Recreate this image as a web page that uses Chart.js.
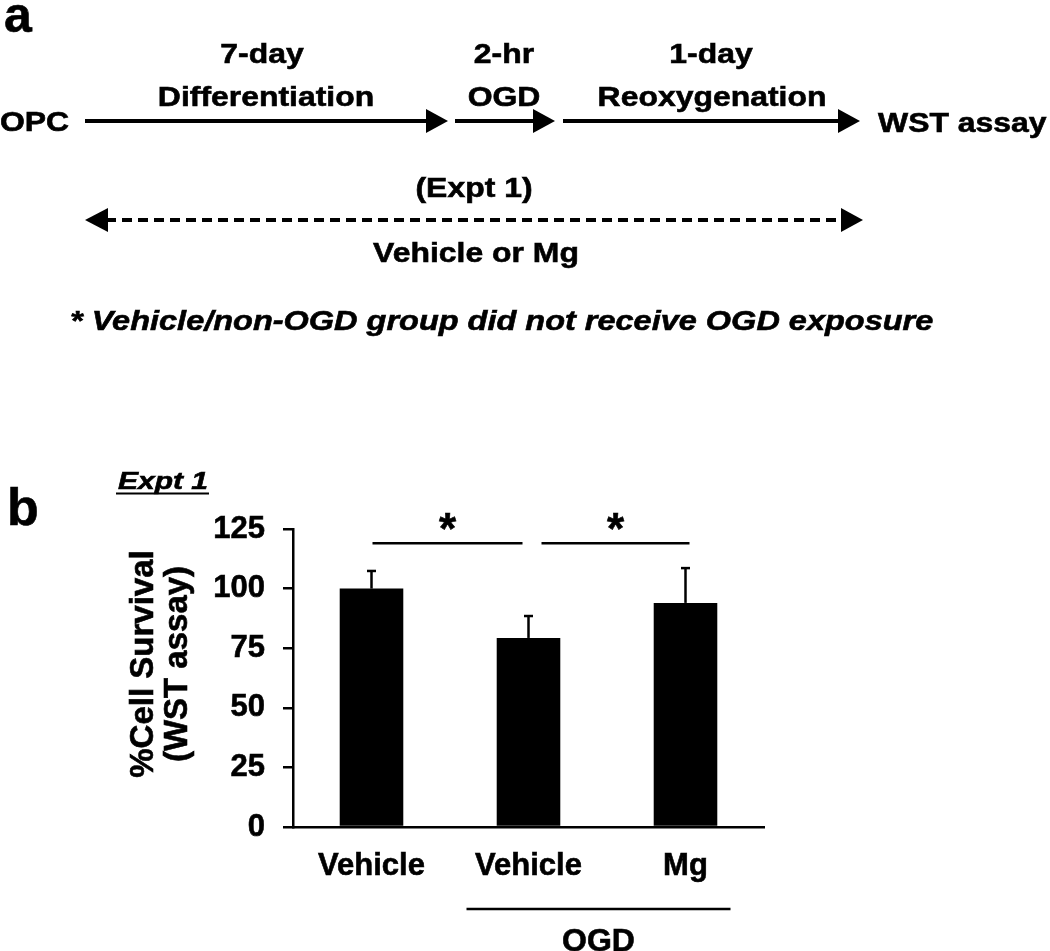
<!DOCTYPE html>
<html>
<head>
<meta charset="utf-8">
<script src="https://cdn.jsdelivr.net/npm/chart.js@4.4.1/dist/chart.umd.min.js"></script>
<style>
  html, body { margin: 0; padding: 0; background: #fff; }
  canvas { display: block; }
</style>
</head>
<body>
<canvas id="fig" width="1050" height="951"></canvas>
<script>
// values (panel b)
const groups = ['Vehicle', 'Vehicle', 'Mg'];
const survival = [100, 79.3, 94.0];
const survivalSd = [7.4, 9.2, 14.6];
const yTicks = [0, 25, 50, 75, 100, 125];
const sigPairs = [[0, 1], [1, 2]];

const FONT = '"Liberation Sans", Arial, Helvetica, sans-serif';

function label(ctx, s, x, y, size, opts = {}) {
  ctx.save();
  ctx.translate(x, y);
  if (opts.rotate) ctx.rotate(opts.rotate);
  ctx.scale(opts.sx || 1, 1);
  ctx.font = (opts.italic ? 'italic ' : '') + 'bold ' + size + 'px ' + FONT;
  ctx.textAlign = opts.align || 'center';
  ctx.textBaseline = 'alphabetic';
  ctx.fillStyle = '#000';
  ctx.fillText(s, 0, 0);
  // a thin outline makes the glyphs as heavy as in the scanned figure
  ctx.strokeStyle = '#000';
  ctx.lineWidth = 0.6;
  ctx.setLineDash([]);
  ctx.strokeText(s, 0, 0);
  ctx.restore();
}

function head(ctx, tip, base, y, half) {
  ctx.beginPath();
  ctx.moveTo(tip, y);
  ctx.lineTo(base, y - half);
  ctx.lineTo(base, y + half);
  ctx.closePath();
  ctx.fill();
}

function arrow(ctx, x0, tip, y) {
  const base = tip - 22;
  ctx.lineWidth = 4;
  ctx.beginPath();
  ctx.moveTo(x0, y);
  ctx.lineTo(base + 1, y);
  ctx.stroke();
  head(ctx, tip, base, y, 12);
}

// panel a: the protocol timeline
const timeline = {
  id: 'timeline',
  afterDraw(chart) {
    const ctx = chart.ctx;
    ctx.save();
    ctx.fillStyle = '#000';
    ctx.strokeStyle = '#000';

    label(ctx, 'a', 4, 32, 50, { align: 'left' });

    const sx = 1.14;
    label(ctx, '7-day', 262, 63, 28, { sx });
    label(ctx, 'Differentiation', 266, 106, 28, { sx });
    label(ctx, '2-hr', 504, 63, 28, { sx });
    label(ctx, 'OGD', 504, 106, 28, { sx });
    label(ctx, '1-day', 711, 63, 28, { sx });
    label(ctx, 'Reoxygenation', 712, 106, 28, { sx });
    label(ctx, 'OPC', 0, 131, 28, { sx, align: 'left' });
    label(ctx, 'WST assay', 878, 132, 28, { sx, align: 'left' });

    arrow(ctx, 85, 448, 121);
    arrow(ctx, 455, 555, 121);
    arrow(ctx, 563, 860, 121);

    label(ctx, '(Expt 1)', 474, 197, 28, { sx });

    ctx.lineWidth = 4;
    ctx.setLineDash([10, 6]);
    ctx.beginPath();
    ctx.moveTo(106, 220);
    ctx.lineTo(843, 220);
    ctx.stroke();
    ctx.setLineDash([]);
    head(ctx, 85, 108, 220, 12);
    head(ctx, 863, 841, 220, 12);

    label(ctx, 'Vehicle or Mg', 476, 262, 28, { sx });
    label(ctx, '* Vehicle/non-OGD group did not receive OGD exposure', 70, 330, 28,
      { sx: 1.16, align: 'left', italic: true });

    // panel b labels
    label(ctx, 'b', 7, 525, 52, { align: 'left' });
    label(ctx, 'Expt 1', 118, 489, 24, { sx: 1.25, align: 'left', italic: true });
    ctx.lineWidth = 2;
    ctx.beginPath();
    ctx.moveTo(116, 493.5);
    ctx.lineTo(209, 493.5);
    ctx.stroke();

    label(ctx, '%Cell Survival', 153, 664, 33, { rotate: -Math.PI / 2 });
    label(ctx, '(WST assay)', 187, 664, 33, { rotate: -Math.PI / 2 });
    ctx.restore();
  }
};

// error bars, significance lines and the OGD bracket
const annotations = {
  id: 'annotations',
  afterDatasetsDraw(chart) {
    const ctx = chart.ctx;
    const y = chart.scales.y;
    const bars = chart.getDatasetMeta(0).data;
    ctx.save();
    ctx.strokeStyle = '#000';
    ctx.fillStyle = '#000';

    bars.forEach((bar, i) => {
      const top = y.getPixelForValue(survival[i] + survivalSd[i]);
      const base = y.getPixelForValue(survival[i]);
      ctx.lineWidth = 2.5;
      ctx.beginPath();
      ctx.moveTo(bar.x, base);
      ctx.lineTo(bar.x, top);
      ctx.stroke();
      ctx.beginPath();
      ctx.moveTo(bar.x - 4.5, top);
      ctx.lineTo(bar.x + 4.5, top);
      ctx.stroke();
    });

    const sigY = y.getPixelForValue(119);
    const offs = [[1, -6], [13, 4]];
    sigPairs.forEach(([a, b], k) => {
      const x0 = bars[a].x + offs[k][0];
      const x1 = bars[b].x + offs[k][1];
      ctx.lineWidth = 2.5;
      ctx.beginPath();
      ctx.moveTo(x0, sigY);
      ctx.lineTo(x1, sigY);
      ctx.stroke();
      label(ctx, '*', (x0 + x1) / 2, sigY + 1, 44);
    });

    const ogd0 = bars[1].x - 62;
    const ogd1 = bars[2].x + 45;
    ctx.lineWidth = 2.5;
    ctx.beginPath();
    ctx.moveTo(ogd0, 909);
    ctx.lineTo(ogd1, 909);
    ctx.stroke();
    label(ctx, 'OGD', (ogd0 + ogd1) / 2, 951, 32);
    ctx.restore();
  }
};

new Chart(document.getElementById('fig'), {
  type: 'bar',
  data: {
    labels: groups,
    datasets: [{
      data: survival,
      backgroundColor: '#000',
      borderWidth: 0,
      barPercentage: 0.405,
      categoryPercentage: 1
    }]
  },
  options: {
    responsive: false,
    animation: false,
    devicePixelRatio: 1,
    layout: { padding: { left: 213, right: 286, top: 529, bottom: 64 } },
    scales: {
      x: {
        grid: { display: false },
        border: { display: true, color: '#000', width: 2.5 },
        ticks: {
          color: '#000',
          padding: 13,
          textStrokeColor: '#000',
          textStrokeWidth: 0.6,
          font: { family: FONT, size: 31, weight: 'bold' }
        },
        afterFit(scale) { scale.height = 60; }
      },
      y: {
        min: yTicks[0],
        max: yTicks[yTicks.length - 1],
        grid: {
          drawOnChartArea: false,
          drawTicks: true,
          tickLength: 10,
          color: '#000',
          lineWidth: 2.5
        },
        border: { display: true, color: '#000', width: 2.5 },
        ticks: {
          stepSize: yTicks[1] - yTicks[0],
          color: '#000',
          padding: 18,
          textStrokeColor: '#000',
          textStrokeWidth: 0.6,
          font: { family: FONT, size: 31, weight: 'bold' }
        },
        afterFit(scale) { scale.width = 80; }
      }
    },
    plugins: {
      legend: { display: false },
      tooltip: { enabled: false }
    }
  },
  plugins: [timeline, annotations]
});
</script>
</body>
</html>
